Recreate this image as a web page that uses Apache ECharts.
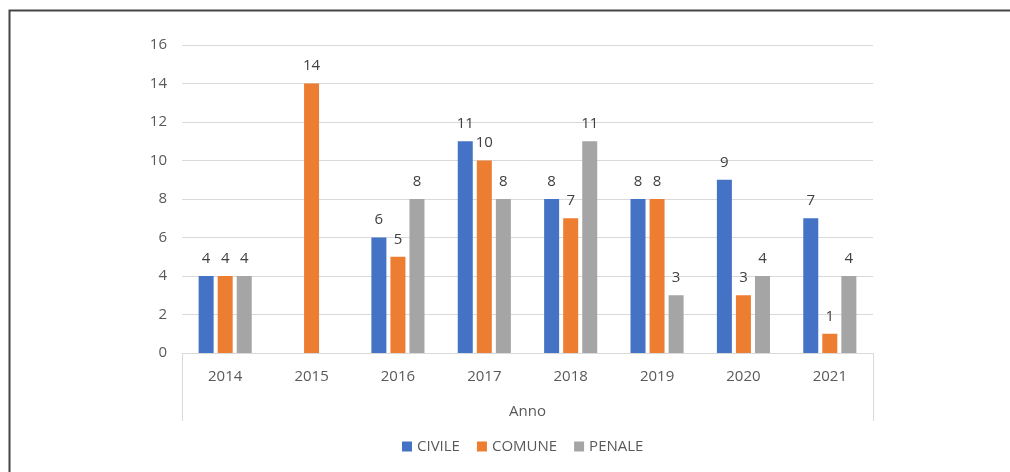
<!DOCTYPE html>
<html>
<head>
<meta charset="utf-8">
<script src="https://cdn.jsdelivr.net/npm/echarts@6/dist/echarts.min.js"></script>
<style>
    html, body { margin: 0; padding: 0; background: #ffffff; }
    #main { width: 1010px; height: 472px; }
</style>
</head>
<body>
<div id="main"></div>
<script>
// dati del grafico
const anni = ['2014', '2015', '2016', '2017', '2018', '2019', '2020', '2021'];
const civile = [4, null, 6, 11, 8, 8, 9, 7];
const comune = [4, 14, 5, 10, 7, 8, 3, 1];
const penale = [4, null, 8, 8, 11, 3, 4, 4];
const yTicks = { min: 0, max: 16, interval: 2 };

const chart = echarts.init(document.getElementById('main'));

const font = '"Open Sans", "Noto Sans", sans-serif';

function serie(name, data, color) {
    return {
        name: name,
        type: 'bar',
        data: data,
        barWidth: 15,
        barGap: '27%',
        itemStyle: { color: color },
        label: {
            show: true,
            position: 'top',
            distance: 10,
            color: '#404040',
            fontSize: 15,
            fontFamily: font
        }
    };
}

chart.setOption({
    animation: false,
    textStyle: { fontFamily: font },
    graphic: [{
        // cornice esterna (solo lati sinistro e superiore visibili)
        type: 'polyline',
        shape: { points: [[9.5, 600], [9.5, 10.5], [1200, 10.5]] },
        style: { fill: 'none', stroke: '#444444', lineWidth: 2 },
        silent: true
    }],
    grid: { left: 182, right: 137, top: 45, bottom: 119 },
    legend: {
        bottom: 13,
        left: 397,
        itemWidth: 10,
        itemHeight: 10,
        itemGap: 17,
        icon: 'rect',
        textStyle: { color: '#595959', fontSize: 15, fontFamily: font },
        data: ['CIVILE', 'COMUNE', 'PENALE']
    },
    xAxis: {
        type: 'category',
        data: anni,
        name: 'Anno',
        nameLocation: 'middle',
        nameGap: 51,
        nameTextStyle: { color: '#595959', fontSize: 15, fontFamily: font },
        axisLine: { lineStyle: { color: '#d9d9d9', width: 1 } },
        axisTick: {
            show: true,
            length: 68,
            interval: function (i) { return i === 0; },
            lineStyle: { color: '#d9d9d9' }
        },
        axisLabel: { color: '#595959', fontSize: 15, margin: 16, fontFamily: font }
    },
    yAxis: {
        type: 'value',
        min: yTicks.min,
        max: yTicks.max,
        interval: yTicks.interval,
        axisLine: { show: false },
        axisTick: { show: false },
        axisLabel: { color: '#595959', fontSize: 15, margin: 15, fontFamily: font },
        splitLine: { lineStyle: { color: '#d9d9d9' } }
    },
    series: [
        serie('CIVILE', civile, '#4472C4'),
        serie('COMUNE', comune, '#ED7D31'),
        serie('PENALE', penale, '#A5A5A5')
    ]
});
</script>
</body>
</html>
